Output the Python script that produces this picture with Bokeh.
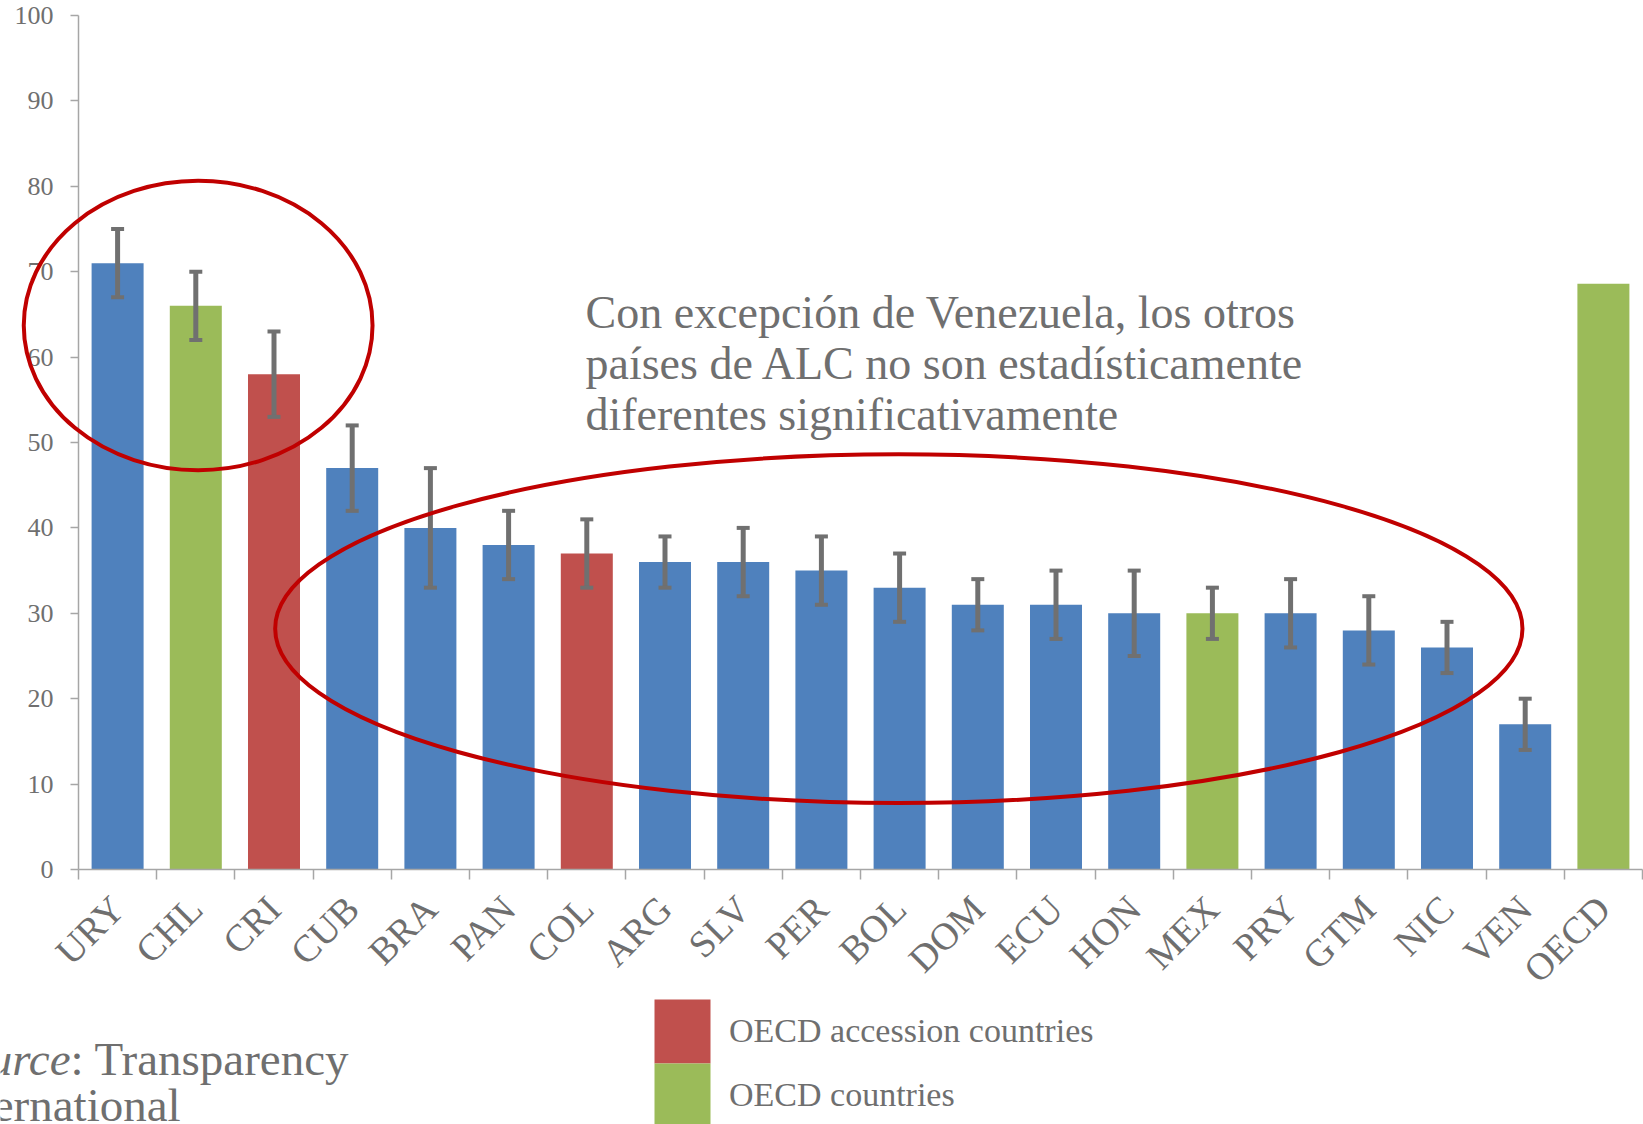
import numpy as np
from bokeh.plotting import figure
from bokeh.models import (Range1d, FixedTicker, CustomJSTickFormatter, ColumnDataSource,
                          Whisker, TeeHead, Label, Legend, LegendItem)
from bokeh.embed import file_html
from bokeh.resources import INLINE

# ---------------- data ----------------
countries = ["URY", "CHL", "CRI", "CUB", "BRA", "PAN", "COL", "ARG", "SLV", "PER",
             "BOL", "DOM", "ECU", "HON", "MEX", "PRY", "GTM", "NIC", "VEN", "OECD"]
scores = [71, 66, 58, 47, 40, 38, 37, 36, 36, 35, 33, 31, 31, 30, 30, 30, 28, 26, 17, 68.6]
err_low = [67, 62, 53, 42, 33, 34, 33, 33, 32, 31, 29, 28, 27, 25, 27, 26, 24, 23, 14, None]
err_high = [75, 70, 63, 52, 47, 42, 41, 39, 40, 39, 37, 34, 35, 35, 33, 34, 32, 29, 20, None]
groups = ["LAC", "OECD", "ACC", "LAC", "LAC", "LAC", "ACC", "LAC", "LAC", "LAC",
          "LAC", "LAC", "LAC", "LAC", "OECD", "LAC", "LAC", "LAC", "LAC", "OECD"]
group_colors = {"LAC": "#4F81BD", "OECD": "#9BBB59", "ACC": "#C0504D"}
y_ticks = [0, 10, 20, 30, 40, 50, 60, 70, 80, 90, 100]

note_lines = ["Con excepción de Venezuela, los otros",
              "países de ALC no son estadísticamente",
              "diferentes significativamente"]
legend_labels = ["OECD accession countries", "OECD countries"]

# highlight ellipses (center x, center y, width, height) in data units
ell_x = [1.53, 10.49]
ell_y = [63.7, 28.2]
ell_w = [4.46, 15.95]
ell_h = [33.9, 40.85]

FONT = "Liberation Serif"
GREY_TXT = "#6f6f6f"
AXIS_GREY = "#a6a6a6"

# ---------------- layout geometry (pixels) ----------------
W, H = 1643, 1124
X0_PX, UNIT_X = 78.0, 78.2       # pixel of x=0, px per category
Y0_PX, Y100_PX = 869.0, 15.0     # pixel rows of 0 and 100
UNIT_Y = (Y0_PX - Y100_PX) / 100.0

n = len(countries)
x_pos = [i + 0.5 for i in range(n)]

p = figure(width=W, height=H,
           x_range=Range1d(-X0_PX / UNIT_X, (W - X0_PX) / UNIT_X),
           y_range=Range1d(-(H - Y0_PX) / UNIT_Y, 100 + Y100_PX / UNIT_Y),
           output_backend="svg", toolbar_location=None,
           min_border_left=0, min_border_right=0, min_border_top=0, min_border_bottom=0)
p.outline_line_color = None
p.xgrid.grid_line_color = None
p.ygrid.grid_line_color = None

src = ColumnDataSource(dict(x=x_pos, score=scores, country=countries,
                            color=[group_colors[g] for g in groups]))
bars = p.vbar(x="x", top="score", bottom=0, width=0.665, fill_color="color",
              line_color=None, source=src)

# error bars
ex, el, eh = [], [], []
for xv, lo, hi in zip(x_pos, err_low, err_high):
    if lo is not None:
        ex.append(xv); el.append(lo); eh.append(hi)
err_src = ColumnDataSource(dict(x=ex, lower=el, upper=eh))
wh = Whisker(base="x", lower="lower", upper="upper", source=err_src, dimension="height",
             line_color="#707070", line_width=5, level="annotation",
             upper_head=TeeHead(size=13, line_color="#707070", line_width=4),
             lower_head=TeeHead(size=13, line_color="#707070", line_width=4))
p.add_layout(wh)

# axes (fixed at data zero so that the frame can cover the whole canvas)
p.yaxis.fixed_location = 0
p.yaxis.bounds = (0, 100)
p.yaxis.ticker = FixedTicker(ticks=y_ticks)
p.yaxis.axis_line_color = AXIS_GREY
p.yaxis.axis_line_width = 1.5
p.yaxis.major_tick_line_color = AXIS_GREY
p.yaxis.major_tick_line_width = 1.5
p.yaxis.major_tick_out = 8
p.yaxis.major_tick_in = 0
p.yaxis.minor_tick_line_color = None
p.yaxis.major_label_standoff = 17
p.yaxis.major_label_text_font = FONT
p.yaxis.major_label_text_font_size = "26px"
p.yaxis.major_label_text_color = GREY_TXT

p.xaxis.fixed_location = 0
p.xaxis.bounds = (0, n)
p.xaxis.ticker = FixedTicker(ticks=x_pos, minor_ticks=list(range(n + 1)))
p.xaxis.formatter = CustomJSTickFormatter(args=dict(labels=countries),
                                          code="return labels[Math.round(tick - 0.5)] || '';")
p.xaxis.axis_line_color = AXIS_GREY
p.xaxis.axis_line_width = 1.5
p.xaxis.major_tick_line_color = None
p.xaxis.major_tick_out = 10
p.xaxis.major_tick_in = 0
p.xaxis.minor_tick_line_color = AXIS_GREY
p.xaxis.minor_tick_line_width = 1.5
p.xaxis.minor_tick_out = 10
p.xaxis.minor_tick_in = 0
p.xaxis.major_label_orientation = np.pi / 4
p.xaxis.major_label_standoff = 23
p.xaxis.major_label_text_font = FONT
p.xaxis.major_label_text_font_size = "38px"
p.xaxis.major_label_text_color = GREY_TXT

# ellipses
p.ellipse(x=ell_x, y=ell_y, width=ell_w, height=ell_h, fill_color=None,
          line_color="#C00000", line_width=4, level="overlay")

# note text
for i, line in enumerate(note_lines):
    p.add_layout(Label(x=585, y=H - 312 - 51 * i, x_units="screen", y_units="screen", text=line,
                       text_font=FONT, text_font_size="46px", text_color=GREY_TXT,
                       text_baseline="alphabetic", text_align="left"))

# source
p.add_layout(Label(x=70, y=H - 1058, x_units="screen", y_units="screen", text="Source",
                   text_font=FONT, text_font_size="47px", text_font_style="italic",
                   text_color=GREY_TXT, text_baseline="alphabetic", text_align="right"))
p.add_layout(Label(x=70, y=H - 1058, x_units="screen", y_units="screen", text=": Transparency",
                   text_font=FONT, text_font_size="47px", text_color=GREY_TXT,
                   text_baseline="alphabetic", text_align="left"))
p.add_layout(Label(x=-60, y=H - 1104, x_units="screen", y_units="screen", text="International",
                   text_font=FONT, text_font_size="47px", text_color=GREY_TXT,
                   text_baseline="alphabetic", text_align="left"))

# legend: one block per entry so that the swatches touch
legend_style = dict(orientation="vertical", glyph_width=70, glyph_height=80, spacing=0,
                    padding=0, margin=0, label_standoff=12, label_text_font=FONT,
                    label_text_font_size="34px", label_text_color=GREY_TXT,
                    label_text_baseline="middle", border_line_color=None,
                    background_fill_alpha=0)
leg_acc = Legend(items=[LegendItem(label=legend_labels[0], renderers=[bars], index=2)],
                 location=(647, H - 1071), **legend_style)
leg_oecd = Legend(items=[LegendItem(label=legend_labels[1], renderers=[bars], index=1)],
                  location=(647, H - 1135), **legend_style)
p.add_layout(leg_acc, "center")
p.add_layout(leg_oecd, "center")

open("out.html", "w").write(file_html(p, INLINE))
